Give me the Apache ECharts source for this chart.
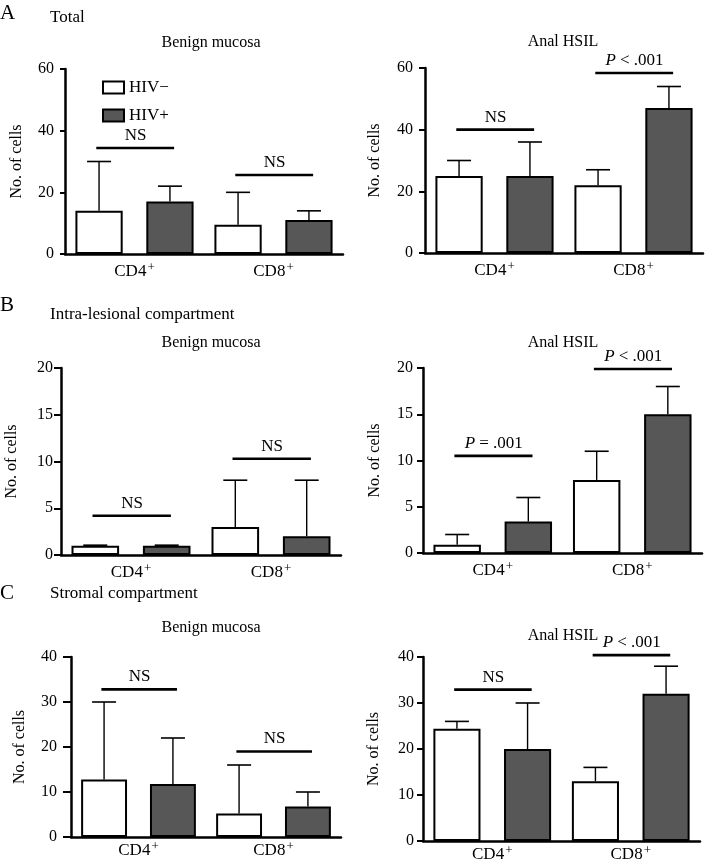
<!DOCTYPE html>
<html>
<head>
<meta charset="utf-8">
<script src="https://cdn.jsdelivr.net/npm/echarts@6/dist/echarts.min.js"></script>
<style>
  html, body { margin: 0; padding: 0; background: #fff; }
  #chart { width: 706px; height: 864px; }
</style>
</head>
<body>
<div id="chart"></div>
<script>
// categories
const categories = ['CD4', 'CD8'];

// A - total
const aBenignNeg = [14, 9.5];
const aBenignNegErr = [30, 20];
const aBenignPos = [17, 11];
const aBenignPosErr = [22, 14];
const aBenignSig = [34.4, 25.6];
const aBenignSigText = ['NS', 'NS'];

const aHsilNeg = [25, 22];
const aHsilNegErr = [30, 27];
const aHsilPos = [25, 47];
const aHsilPosErr = [36, 54];
const aHsilSig = [40, 58.4];
const aHsilSigText = ['NS', '{i|P} < .001'];

// B - intra-lesional
const bBenignNeg = [1, 3];
const bBenignNegErr = [1.05, 8];
const bBenignPos = [1, 2];
const bBenignPosErr = [1.05, 8];
const bBenignSig = [4.2, 10.3];
const bBenignSigText = ['NS', 'NS'];

const bHsilNeg = [0.9, 7.9];
const bHsilNegErr = [2, 11];
const bHsilPos = [3.4, 15];
const bHsilPosErr = [6, 18];
const bHsilSig = [10.5, 19.9];
const bHsilSigText = ['{i|P} = .001', '{i|P} < .001'];

// C - stromal
const cBenignNeg = [12.8, 5.2];
const cBenignNegErr = [30, 16];
const cBenignPos = [11.8, 6.8];
const cBenignPosErr = [22, 10];
const cBenignSig = [32.8, 19];
const cBenignSigText = ['NS', 'NS'];

const cHsilNeg = [24.4, 13];
const cHsilNegErr = [26, 16];
const cHsilPos = [20, 32];
const cHsilPosErr = [30, 38];
const cHsilSig = [32.9, 40.4];
const cHsilSigText = ['NS', '{i|P} < .001'];

// y axis ranges
const yMaxA = 60, yStepA = 20;
const yMaxB = 20, yStepB = 5;
const yMaxC = 40, yStepC = 10;

const FONT = '"Liberation Serif", "DejaVu Serif", serif';
const DARK = '#575757';

const panels = [
  { grid: { left: 65, top: 69, width: 278, height: 185 }, max: yMaxA, step: yStepA, nameGap: 40, labMargin: 11, tick: 5, xMargin: 7,
    neg: aBenignNeg, negErr: aBenignNegErr, pos: aBenignPos, posErr: aBenignPosErr, sig: aBenignSig, sigText: aBenignSigText },
  { grid: { left: 425, top: 68, width: 278, height: 185 }, max: yMaxA, step: yStepA, nameGap: 42, labMargin: 12, tick: 6, xMargin: 7,
    neg: aHsilNeg, negErr: aHsilNegErr, pos: aHsilPos, posErr: aHsilPosErr, sig: aHsilSig, sigText: aHsilSigText },
  { grid: { left: 61, top: 368, width: 280, height: 187 }, max: yMaxB, step: yStepB, nameGap: 41, labMargin: 8, tick: 7, xMargin: 7,
    neg: bBenignNeg, negErr: bBenignNegErr, pos: bBenignPos, posErr: bBenignPosErr, sig: bBenignSig, sigText: bBenignSigText },
  { grid: { left: 423, top: 368, width: 279, height: 185 }, max: yMaxB, step: yStepB, nameGap: 40, labMargin: 10, tick: 6, xMargin: 7,
    neg: bHsilNeg, negErr: bHsilNegErr, pos: bHsilPos, posErr: bHsilPosErr, sig: bHsilSig, sigText: bHsilSigText },
  { grid: { left: 71, top: 657, width: 270, height: 180 }, max: yMaxC, step: yStepC, nameGap: 43, labMargin: 14, tick: 8, xMargin: 3,
    neg: cBenignNeg, negErr: cBenignNegErr, pos: cBenignPos, posErr: cBenignPosErr, sig: cBenignSig, sigText: cBenignSigText },
  { grid: { left: 423, top: 657, width: 277, height: 184 }, max: yMaxC, step: yStepC, nameGap: 41, labMargin: 9, tick: 6, xMargin: 3,
    neg: cHsilNeg, negErr: cHsilNegErr, pos: cHsilPos, posErr: cHsilPosErr, sig: cHsilSig, sigText: cHsilSigText },
];

// error bars: only the upper whisker plus a cap
function renderErr(params, api) {
  const cat = api.value(0);
  const side = api.value(2); // -1 = HIV-, 1 = HIV+
  const band = api.size([1, 0])[0];
  const off = side * band * 0.255;
  const base = api.coord([cat, api.value(1)]);
  const top = api.coord([cat, api.value(3)]);
  const x = base[0] + off;
  const capHalf = 12;
  return {
    type: 'group',
    children: [
      { type: 'line', shape: { x1: x, y1: base[1], x2: x, y2: top[1] }, style: { stroke: '#000', lineWidth: 1.4 } },
      { type: 'line', shape: { x1: x - capHalf, y1: top[1], x2: x + capHalf, y2: top[1] }, style: { stroke: '#000', lineWidth: 1.6 } },
    ],
  };
}

// significance bars with their label
function renderSig(params, api) {
  const cat = api.value(0);
  const band = api.size([1, 0])[0];
  const p = api.coord([cat, api.value(1)]);
  const text = params.context.texts[params.dataIndex];
  return {
    type: 'group',
    children: [
      { type: 'line', shape: { x1: p[0] - band * 0.275, y1: p[1], x2: p[0] + band * 0.285, y2: p[1] }, style: { stroke: '#000', lineWidth: 2.6 } },
      { type: 'text', style: {
          text: text, x: p[0] + 1, y: p[1] - 4, textAlign: 'center', textVerticalAlign: 'bottom',
          font: '17px ' + FONT, fill: '#000',
          rich: { i: { fontStyle: 'italic', fontSize: 17, fontFamily: FONT } },
        } },
    ],
  };
}

const grids = [], xAxes = [], yAxes = [], series = [];
panels.forEach((pn, i) => {
  grids.push(pn.grid);
  xAxes.push({
    type: 'category', gridIndex: i, data: categories,
    axisLine: { lineStyle: { color: '#000', width: 2.5 } },
    axisTick: { show: false },
    axisLabel: {
      margin: pn.xMargin, color: '#000', fontFamily: FONT, fontSize: 16,
      formatter: (v) => '{a|' + v + '}{s|+}',
      rich: { a: { fontSize: 17, fontFamily: FONT, color: '#000' }, s: { fontSize: 13, fontFamily: FONT, color: '#000', verticalAlign: 'top', padding: [0, 0, 9, 1] } },
    },
  });
  yAxes.push({
    type: 'value', gridIndex: i, min: 0, max: pn.max, interval: pn.step,
    name: 'No. of cells', nameLocation: 'middle', nameRotate: 90, nameGap: pn.nameGap,
    nameTextStyle: { fontFamily: FONT, fontSize: 16, color: '#000' },
    splitLine: { show: false },
    axisLine: { show: true, lineStyle: { color: '#000', width: 2.5 } },
    axisTick: { show: true, length: pn.tick, lineStyle: { color: '#000', width: 2 } },
    axisLabel: { margin: pn.labMargin, color: '#000', fontFamily: FONT, fontSize: 16 },
  });
  const barStyle = (c) => ({ color: c, borderColor: '#000', borderWidth: 2 });
  series.push({
    name: 'HIV\u2212', type: 'bar', xAxisIndex: i, yAxisIndex: i, data: pn.neg,
    barWidth: '34%', barGap: '50%', itemStyle: barStyle('#fff'), silent: true,
  });
  series.push({
    name: 'HIV+', type: 'bar', xAxisIndex: i, yAxisIndex: i, data: pn.pos,
    barWidth: '34%', barGap: '50%', itemStyle: barStyle(DARK), silent: true,
  });
  const errData = [];
  categories.forEach((c, k) => {
    errData.push([k, pn.neg[k], -1, pn.negErr[k]]);
    errData.push([k, pn.pos[k], 1, pn.posErr[k]]);
  });
  series.push({
    type: 'custom', xAxisIndex: i, yAxisIndex: i, data: errData, renderItem: renderErr,
    encode: { x: 0, y: 1 }, clip: false, silent: true, z: 1,
  });
  const sigData = pn.sig.map((v, k) => [k, v]);
  const texts = pn.sigText;
  series.push({
    type: 'custom', xAxisIndex: i, yAxisIndex: i, data: sigData,
    renderItem: (params, api) => { params.context.texts = texts; return renderSig(params, api); },
    encode: { x: 0, y: 1 }, clip: false, silent: true,
  });
});

function label(text, x, y, size, align) {
  return { type: 'text', x: x, y: y, style: { text: text, font: size + 'px ' + FONT, fill: '#000', textAlign: align || 'left', textVerticalAlign: 'middle' } };
}

const chart = echarts.init(document.getElementById('chart'), null, { renderer: 'canvas' });
chart.setOption({
  animation: false,
  backgroundColor: '#fff',
  grid: grids,
  xAxis: xAxes,
  yAxis: yAxes,
  legend: {
    data: ['HIV\u2212', 'HIV+'], orient: 'vertical', left: 102, top: 79, padding: 0,
    itemWidth: 21, itemHeight: 12, itemGap: 11, icon: 'rect',
    itemStyle: { borderColor: '#000', borderWidth: 2 },
    textStyle: { fontFamily: FONT, fontSize: 17, color: '#000' },
    selectedMode: false,
  },
  graphic: [
    label('A', 0, 13, 21), label('Total', 50, 18, 17),
    label('Benign mucosa', 211, 43, 16, 'center'), label('Anal HSIL', 563, 42, 16, 'center'),
    label('B', 0, 305, 21), label('Intra-lesional compartment', 50, 315, 17),
    label('Benign mucosa', 211, 343, 16, 'center'), label('Anal HSIL', 563, 343, 16, 'center'),
    label('C', 0, 593, 21), label('Stromal compartment', 50, 594, 17),
    label('Benign mucosa', 211, 628, 16, 'center'), label('Anal HSIL', 563, 636, 16, 'center'),
  ],
  series: series,
});
</script>
</body>
</html>
